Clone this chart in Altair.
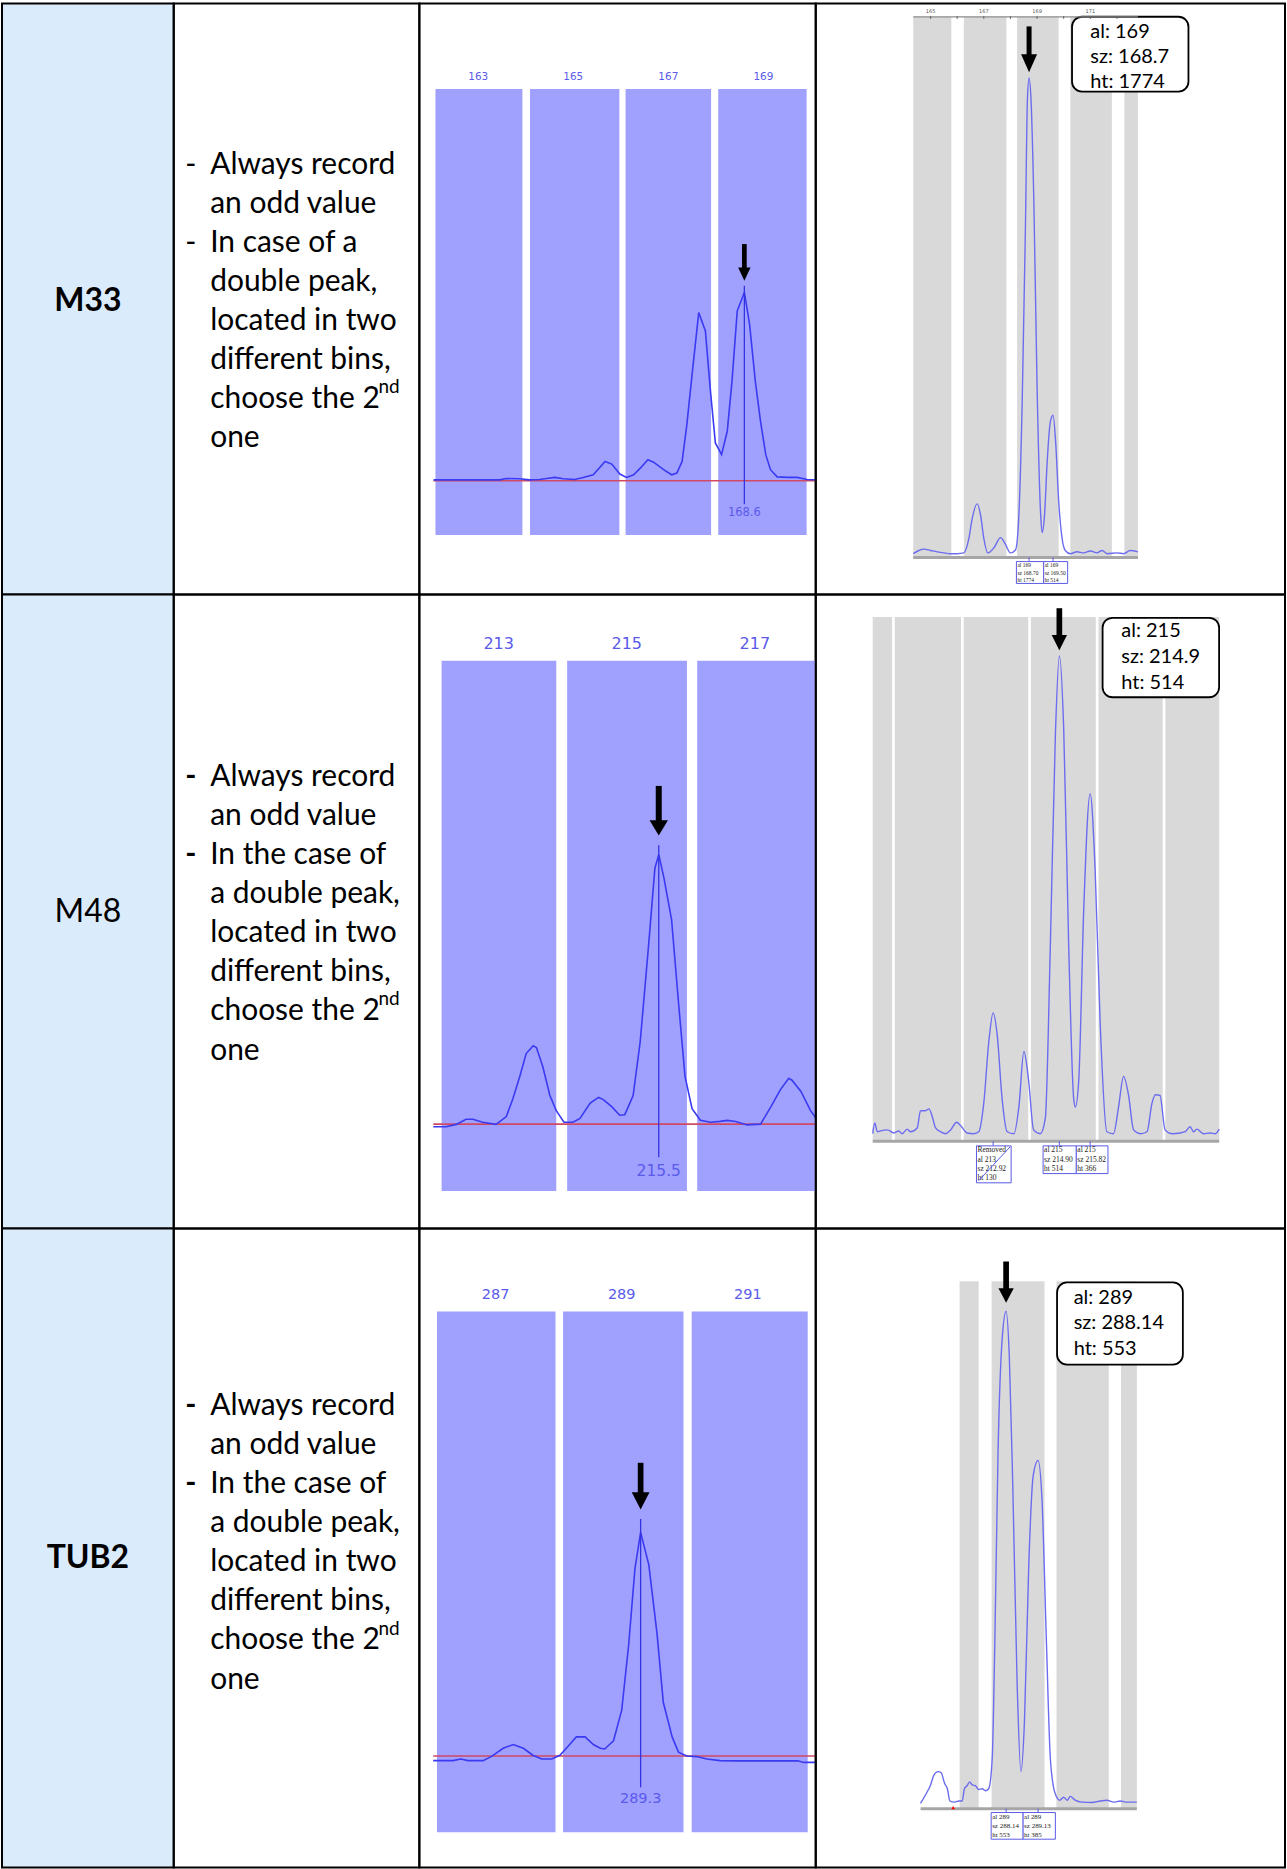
import altair as alt
import pandas as pd

# ============================ DATA ============================
MARKERS = ["M33", "M48", "TUB2"]
MARKER_WEIGHTS = ["bold", "normal", "bold"]

RULES_M33 = ["Always record", "an odd value", "In case of a", "double peak,",
             "located in two", "different bins,", "choose the 2", "one"]
RULES_M48 = ["Always record", "an odd value", "In the case of", "a double peak,",
             "located in two", "different bins,", "choose the 2", "one"]
RULES_TUB2 = ["Always record", "an odd value", "In the case of", "a double peak,",
              "located in two", "different bins,", "choose the 2", "one"]
BULLET_LINE_IDX = [0, 2]
ORDINAL_LINE_IDX = 6
ORDINAL_SUFFIX = "nd"

# ---- bin view (left electropherograms): size in bp, signal relative to called peak (=100)
M33_BINS = [163, 165, 167, 169]
M33_BIN_LO = [162.10, 164.09, 166.10, 168.05]
M33_BIN_HI = [163.93, 165.97, 167.90, 169.91]
M33_BP = [162.06, 162.47, 163.45, 163.59, 163.87, 164.08, 164.29, 164.44, 164.61, 164.79,
          165.03, 165.21, 165.42, 165.67, 165.81, 165.98, 166.12, 166.27, 166.41, 166.57,
          166.69, 166.90, 167.07, 167.18, 167.29, 167.39, 167.50, 167.64, 167.78, 167.88,
          167.99, 168.12, 168.24, 168.34, 168.45, 168.60, 168.71, 168.83, 168.94, 169.05,
          169.15, 169.29, 169.50, 169.71, 169.92, 170.14]
M33_SIG = [0.5, 0.5, 0.5, 1.2, 1.1, 0.5, 0.7, 1.2, 1.8, 1.1,
           0.7, 1.8, 3.2, 10.3, 8.9, 3.6, 1.8, 3.2, 6.7, 11.2,
           9.9, 5.9, 3.2, 4.1, 10.3, 29.8, 56.5, 89.3, 79.6, 49.4,
           20.1, 13.9, 26.3, 52.9, 90.2, 100, 83.1, 52.9, 31.6, 13.9,
           5.9, 2.1, 1.8, 1.8, 0.7, 0.5]
M33_CALL = 168.6

M48_BINS = [213, 215, 217]
M48_BIN_LO = [212.11, 214.07, 216.10]
M48_BIN_HI = [213.90, 215.94, 217.95]
M48_BP = [211.98, 212.18, 212.34, 212.49, 212.60, 212.75, 212.96, 213.12, 213.22, 213.33,
          213.43, 213.54, 213.59, 213.69, 213.80, 213.90, 214.02, 214.16, 214.27, 214.43,
          214.56, 214.63, 214.77, 214.89, 214.97, 215.10, 215.21, 215.34, 215.44, 215.50,
          215.58, 215.70, 215.81, 215.91, 216.02, 216.15, 216.31, 216.46, 216.57, 216.70,
          216.88, 217.09, 217.25, 217.40, 217.53, 217.58, 217.72, 217.87, 217.98]
M48_SIG = [-1.0, -1.0, -0.1, 1.8, 1.8, 0.7, -0.1, 2.8, 9.2, 17.7,
           26.2, 29.1, 28.4, 21.3, 10.6, 5.0, 0.7, 0.7, 2.1, 7.8,
           9.9, 9.2, 6.4, 3.3, 3.5, 10.6, 30.5, 66.0, 95.0, 100,
           91.5, 75.9, 44.7, 17.7, 5.7, 1.4, 0.7, 1.0, 1.4, 1.0,
           -0.3, 0.0, 6.4, 12.8, 17.0, 16.3, 12.1, 5.0, 1.4]
M48_CALL = 215.5

TUB2_BINS = [287, 289, 291]
TUB2_BIN_LO = [286.07, 288.07, 290.11]
TUB2_BIN_HI = [287.95, 289.98, 291.95]
TUB2_BP = [286.01, 286.32, 286.45, 286.56, 286.80, 286.93, 287.12, 287.28, 287.44, 287.59,
           287.73, 287.89, 288.02, 288.15, 288.28, 288.42, 288.55, 288.66, 288.73, 288.87,
           289.00, 289.11, 289.21, 289.30, 289.43, 289.56, 289.66, 289.80, 289.90, 290.03,
           290.19, 290.35, 290.56, 290.83, 291.10, 291.36, 291.63, 291.79, 291.89, 292.10]
TUB2_SIG = [-2.1, -2.1, -1.4, -2.1, -2.1, -0.3, 3.4, 5.1, 3.4, 0.3,
            -1.4, -1.4, 0.3, 4.3, 8.5, 8.5, 5.1, 3.4, 3.1, 6.8,
            20.5, 49.6, 83.8, 100, 85.5, 54.7, 23.9, 8.5, 1.7, 0.0,
            -0.3, -1.4, -2.1, -2.2, -2.2, -2.2, -2.2, -2.2, -2.9, -2.9]
TUB2_CALL = 289.3

# ---- GeneMapper view (right electropherograms): size in bp, height in RFU
M33_GM_BIN_LO = [164.35, 166.25, 168.25, 170.25, 172.28]
M33_GM_BIN_HI = [165.78, 167.85, 169.81, 171.81, 172.79]
M33_GM_BP = [164.35, 164.56, 164.75, 165.00, 165.25, 165.50, 165.75, 166.00, 166.25, 166.44,
             166.56, 166.75, 166.88, 167.00, 167.15, 167.38, 167.63, 167.81, 168.00, 168.19,
             168.31, 168.44, 168.56, 168.64, 168.70, 168.77, 168.88, 169.00, 169.13, 169.19,
             169.28, 169.38, 169.50, 169.60, 169.70, 169.81, 169.94, 170.06, 170.25, 170.50,
             170.75, 171.00, 171.25, 171.44, 171.63, 172.00, 172.25, 172.50, 172.79]
M33_GM_RFU = [-3, 9, 14, 9, 4, 0, -3, -3, 0, 54,
              126, 183, 140, 54, 0, 19, 57, 33, 0, 11,
              126, 554, 1196, 1700, 1774, 1700, 1310, 625, 154, 76,
              140, 340, 490, 514, 411, 197, 54, 9, -3, 4,
              0, 7, 0, 9, -3, 0, -3, 9, 4]
M33_GM_CALLOUT = ["al: 169", "sz: 168.7", "ht: 1774"]
M33_GM_SZ = 168.7
M33_GM_PEAKS = [168.70, 169.60]
M33_GM_PEAK_TEXT = [["al 169", "sz 168.70", "ht 1774"], ["al 169", "sz 169.50", "ht 514"]]
M33_GM_TICKS = [165, 166, 167, 168, 169, 170, 171, 172]
M33_GM_TICK_LABELS = [165, 167, 169, 171]

M48_GM_BIN_LO = [209.32, 209.98, 212.04, 214.05, 216.07, 218.07]
M48_GM_BIN_HI = [209.90, 211.96, 213.97, 215.99, 217.99, 219.68]
M48_GM_BP = [209.32, 209.38, 209.46, 209.58, 209.76, 209.95, 210.10, 210.20, 210.35, 210.45,
             210.65, 210.75, 210.90, 211.00, 211.10, 211.20, 211.35, 211.50, 211.65, 211.83,
             211.94, 212.14, 212.34, 212.49, 212.64, 212.79, 212.92, 213.04, 213.19, 213.34,
             213.54, 213.69, 213.84, 213.98, 214.13, 214.33, 214.48, 214.63, 214.78, 214.90,
             215.03, 215.18, 215.33, 215.38, 215.48, 215.63, 215.82, 215.97, 216.12, 216.32,
             216.52, 216.67, 216.82, 216.97, 217.12, 217.32, 217.52, 217.67, 217.77, 217.91,
             218.06, 218.26, 218.51, 218.66, 218.81, 218.91, 219.01, 219.21, 219.41, 219.56,
             219.68]
M48_GM_RFU = [0, 11.5, 2.1, 3.3, 4.1, 0.8, 2.9, 0, 4.9, 2.1,
              6.2, 24.7, 24.7, 26.7, 18.5, 6.2, 2.1, 0, 4.1, 12.3,
              9.0, 0.8, 0, 2.1, 32.9, 98.7, 130, 106.9, 37.0, 2.1,
              0, 28.8, 88.4, 57.6, 4.1, 0, 16.4, 201.5, 427.6, 514,
              435.9, 201.5, 37.0, 28.8, 57.6, 242.6, 366, 283.7, 119.2, 2.1,
              0, 28.8, 61.7, 41.1, 4.1, 0, 2.1, 32.9, 41.9, 41.1,
              4.1, 0, 0.8, 2.1, 7.4, 2.1, 4.9, 0, 0.8, 0,
              4.9]
M48_GM_CALLOUT = ["al: 215", "sz: 214.9", "ht: 514"]
M48_GM_SZ = 214.9
M48_GM_PEAKS = [212.92, 214.90, 215.82]
M48_GM_PEAK_TEXT = [["Removed", "al 213", "sz 212.92", "ht 130"],
                    ["al 215", "sz 214.90", "ht 514"],
                    ["al 215", "sz 215.82", "ht 366"]]

TUB2_GM_BIN_LO = [286.70, 287.69, 289.70, 291.70]
TUB2_GM_BIN_HI = [287.29, 289.33, 291.32, 292.19]
TUB2_GM_BP = [285.49, 285.65, 285.80, 285.90, 286.03, 286.13, 286.23, 286.32, 286.40, 286.52,
              286.68, 286.78, 286.85, 286.93, 287.01, 287.09, 287.19, 287.29, 287.40, 287.50,
              287.60, 287.71, 287.79, 287.89, 288.02, 288.14, 288.24, 288.35, 288.48, 288.60,
              288.71, 288.84, 288.98, 289.13, 289.25, 289.39, 289.51, 289.65, 289.80, 289.92,
              290.03, 290.13, 290.28, 290.49, 290.80, 291.06, 291.26, 291.47, 291.68, 291.88,
              292.19]
TUB2_GM_RFU = [-1.3, 8.6, 19.4, 30.1, 34.4, 33.1, 21.5, 15.1, 1.3, 0,
               1.3, 1.3, 15.1, 18.5, 22.8, 19.4, 18.5, 14.2, 15.1, 12.9,
               15.1, 49.5, 178.6, 393.8, 522.9, 553, 501.4, 350.8, 135.6, 34.4,
               92.5, 264.7, 368.0, 385, 342.2, 178.6, 49.5, 10.8, 2.2, 5.6,
               2.2, 6.5, 2.2, 0, -0.4, 1.3, 2.2, 0, 1.3, 0,
               0]
TUB2_GM_CALLOUT = ["al: 289", "sz: 288.14", "ht: 553"]
TUB2_GM_SZ = 288.14
TUB2_GM_PEAKS = [288.14, 289.13]
TUB2_GM_PEAK_TEXT = [["al 289", "sz 288.14", "ht 553"], ["al 289", "sz 289.13", "ht 385"]]
TUB2_GM_FLAG = 286.50

# ============================ LAYOUT / STYLE ============================
COL_W = [172, 246, 397, 470]
ROW_H = [592, 635, 640]
FONT = "Lato"
LIGHT_BLUE = "#DAEBFB"
BIN_BLUE = "#A0A0FF"
LABEL_BLUE = "#5A5AEB"
TRACE_BLUE = "#3A3AF2"
CALL_BLUE = "#3333E0"
RED = "#D04A64"
GM_GRAY = "#D9D9D9"
GM_TRACE = "#6C6CF0"
AXIS_GRAY = "#A6A6A6"
MINI_BLUE = "#5A5AE6"

MARKER_Y = [298, 318, 330]
RULE_FIRST_Y = [161.5, 183, 178]
LINE_STEP = 39.1

BIN_GEO = [
    dict(anchor=163, anchor_px=58.96, ppu_x=47.6, base_px=478.1, ppu_y=1.886,
         bin_top=85.8, bin_bot=532.4, lab_y=73.5, lab_fs=10.5, pk_top=282.8, pk_bot=501.5,
         call_y=510.0, call_fs=11.5, shaft_top=241.0, head_base=264.4, shaft_w=4.7,
         head_w=12.4, head_h=13.4),
    dict(anchor=213, anchor_px=79.4, ppu_x=64.15, base_px=530.4, ppu_y=2.698,
         bin_top=66.2, bin_bot=597.4, lab_y=49.3, lab_fs=16, pk_top=251.0, pk_bot=563.5,
         call_y=577.0, call_fs=15.5, shaft_top=191.7, head_base=226.1, shaft_w=6.0,
         head_w=18.4, head_h=15.3),
    dict(anchor=287, anchor_px=76.38, ppu_x=63.15, base_px=528.2, ppu_y=2.239,
         bin_top=83.1, bin_bot=604.7, lab_y=67.0, lab_fs=14.5, pk_top=290.9, pk_bot=559.5,
         call_y=571.5, call_fs=14.5, shaft_top=234.6, head_base=264.1, shaft_w=5.7,
         head_w=17.8, head_h=17.2),
]

GM_GEO = [
    dict(anchor=165, anchor_px=115, ppu_x=26.667, base_px=550.3, ppu_y=0.2682,
         gray_top=13.5, axis_y=554.9, shaft_top=23, head_base=51, shaft_w=5, head_w=16, head_h=18,
         box=(256.7, 373.3, 13.3, 88.3), text_x=275, text_y=[28.3, 53.3, 78.3],
         mini_x=[(201, 228.3), (228.3, 252.3)], mini_top=559, mini_step=7.3, mini_fs=5.5),
    dict(anchor=214.9, anchor_px=244, ppu_x=33.5, base_px=540.0, ppu_y=0.9307,
         gray_top=22.5, axis_y=547.6, shaft_top=13.7, head_base=40.5, shaft_w=5.7, head_w=15.3,
         head_h=15.3, box=(287.3, 404, 23.3, 102.9), text_x=306, text_y=[36.7, 62.3, 88.4],
         mini_x=[(161, 195.7), (227.7, 261), (261, 292.7)], mini_top=552.2, mini_step=9.25,
         mini_fs=7.5),
    dict(anchor=288.14, anchor_px=190.67, ppu_x=32.333, base_px=574.5, ppu_y=0.8892,
         gray_top=52.9, axis_y=581.0, shaft_top=33, head_base=59.8, shaft_w=5.7, head_w=15.3,
         head_h=14.5, box=(241.7, 367.7, 54, 136.3), text_x=258.3, text_y=[69.4, 95, 121],
         mini_x=[(175.7, 207.7), (207.7, 240)], mini_top=584.9, mini_step=8.9, mini_fs=7),
]

ONE = pd.DataFrame({"k": [0]})


def lin_domain(anchor, anchor_px, ppu, size):
    lo = anchor - anchor_px / ppu
    return [lo, lo + size / ppu]


def y_domain(base_px, ppu, size):
    return [-(size - base_px) / ppu, base_px / ppu]


def panel(layers, w, h, fill=None):
    if fill:
        return alt.layer(*layers).properties(
            width=w, height=h, view=alt.ViewBackground(fill=fill, stroke="black", strokeWidth=2))
    return alt.layer(*layers).properties(width=w, height=h)


def arrow(xs, x_val, shaft_top, head_base, shaft_w, head_w, head_h):
    path = "M-1,0L1,0L0,%.4fZ" % (2.0 * head_h / head_w)
    shaft = alt.Chart(ONE).mark_rule(color="black", strokeWidth=shaft_w, strokeCap="butt").encode(
        x=alt.XDatum(x_val, scale=xs, axis=None), y=alt.value(shaft_top), y2=alt.value(head_base + 1))
    head = alt.Chart(ONE).mark_point(shape=path, filled=True, color="black", opacity=1,
                                     strokeWidth=0, size=head_w ** 2).encode(
        x=alt.XDatum(x_val, scale=xs, axis=None), y=alt.value(head_base))
    return [shaft, head]


def marker_cell(r):
    df = pd.DataFrame({"label": [MARKERS[r]]})
    t = alt.Chart(df).mark_text(font=FONT, fontSize=32, fontWeight=MARKER_WEIGHTS[r],
                                color="black", align="center", baseline="middle").encode(
        x=alt.value(COL_W[0] / 2), y=alt.value(MARKER_Y[r]), text="label:N")
    return panel([t], COL_W[0], ROW_H[r], fill=LIGHT_BLUE)


def rules_cell(r, lines, bullet_weight):
    W, H = COL_W[1], ROW_H[r]
    c0 = RULE_FIRST_Y[r]
    ys = alt.Scale(domain=[-c0 / LINE_STEP, (H - c0) / LINE_STEP], reverse=True,
                   nice=False, zero=False)
    Y = alt.Y("line:Q", scale=ys, axis=None)
    df = pd.DataFrame({"line": list(range(len(lines))), "text": lines})
    bul = pd.DataFrame({"line": BULLET_LINE_IDX, "text": ["-"] * len(BULLET_LINE_IDX)})
    sup = pd.DataFrame({"line": [ORDINAL_LINE_IDX], "text": [ORDINAL_SUFFIX]})
    layers = [
        alt.Chart(df).mark_text(align="left", baseline="middle", font=FONT, fontSize=30,
                                color="black").encode(x=alt.value(36.5), y=Y, text="text:N"),
        alt.Chart(bul).mark_text(align="center", baseline="middle", font=FONT, fontSize=30,
                                 fontWeight=bullet_weight, color="black").encode(
            x=alt.value(17), y=Y, text="text:N"),
        alt.Chart(sup).mark_text(align="left", baseline="middle", font=FONT, fontSize=19,
                                 dy=-12, color="black").encode(x=alt.value(205), y=Y, text="text:N"),
    ]
    return panel(layers, W, H)


def bin_view_cell(r, lo, hi, labels, bp, sig, call):
    g = BIN_GEO[r]
    W, H = COL_W[2], ROW_H[r]
    xs = alt.Scale(domain=lin_domain(g["anchor"], g["anchor_px"], g["ppu_x"], W), nice=False, zero=False)
    ys = alt.Scale(domain=y_domain(g["base_px"], g["ppu_y"], H), nice=False, zero=False)
    bins = pd.DataFrame({"lo": lo, "hi": hi, "label": labels})
    trace = pd.DataFrame({"bp": bp, "sig": sig})
    layers = [
        alt.Chart(bins).mark_rect(color=BIN_BLUE).encode(
            x=alt.X("lo:Q", scale=xs, axis=None), x2=alt.X2("hi"),
            y=alt.value(g["bin_top"]), y2=alt.value(g["bin_bot"])),
        alt.Chart(bins).mark_text(color=LABEL_BLUE, font="DejaVu Sans", fontSize=g["lab_fs"],
                                  baseline="middle").encode(
            x=alt.X("label:Q", scale=xs, axis=None), y=alt.value(g["lab_y"]), text="label:N"),
        alt.Chart(ONE).mark_rule(color=RED, strokeWidth=1.6, clip=True).encode(
            x=alt.XDatum(bp[0], scale=xs, axis=None), x2=alt.X2Datum(bp[-1]),
            y=alt.YDatum(0, scale=ys, axis=None)),
        alt.Chart(trace).mark_line(color=TRACE_BLUE, strokeWidth=1.6, clip=True).encode(
            x=alt.X("bp:Q", scale=xs, axis=None), y=alt.Y("sig:Q", scale=ys, axis=None)),
        alt.Chart(ONE).mark_rule(color=CALL_BLUE, strokeWidth=1.3).encode(
            x=alt.XDatum(call, scale=xs, axis=None), y=alt.value(g["pk_top"]), y2=alt.value(g["pk_bot"])),
        alt.Chart(ONE).mark_text(color=LABEL_BLUE, font="DejaVu Sans", fontSize=g["call_fs"],
                                 baseline="middle").encode(
            x=alt.XDatum(call, scale=xs, axis=None), y=alt.value(g["call_y"]), text=alt.value(str(call))),
    ]
    layers += arrow(xs, call, g["shaft_top"], g["head_base"], g["shaft_w"], g["head_w"], g["head_h"])
    return panel(layers, W, H)


def gm_cell(r, glo, ghi, bp, rfu, callout, sz, peaks, peak_text, extra=None):
    g = GM_GEO[r]
    W, H = COL_W[3], ROW_H[r]
    xs = alt.Scale(domain=lin_domain(g["anchor"], g["anchor_px"], g["ppu_x"], W), nice=False, zero=False)
    ys = alt.Scale(domain=y_domain(g["base_px"], g["ppu_y"], H), nice=False, zero=False)
    bins = pd.DataFrame({"lo": glo, "hi": ghi})
    trace = pd.DataFrame({"bp": bp, "rfu": rfu})
    pk = pd.DataFrame({"sz": peaks})
    layers = [
        alt.Chart(bins).mark_rect(color=GM_GRAY).encode(
            x=alt.X("lo:Q", scale=xs, axis=None), x2=alt.X2("hi"),
            y=alt.value(g["gray_top"]), y2=alt.value(g["axis_y"])),
        alt.Chart(ONE).mark_rule(color=AXIS_GRAY, strokeWidth=3).encode(
            x=alt.XDatum(bp[0], scale=xs, axis=None), x2=alt.X2Datum(bp[-1]),
            y=alt.value(g["axis_y"])),
        alt.Chart(trace).mark_line(color=GM_TRACE, strokeWidth=1.4, interpolate="monotone",
                                   clip=True).encode(
            x=alt.X("bp:Q", scale=xs, axis=None), y=alt.Y("rfu:Q", scale=ys, axis=None)),
        alt.Chart(pk).mark_rule(color=MINI_BLUE, strokeWidth=1).encode(
            x=alt.X("sz:Q", scale=xs, axis=None), y=alt.value(g["axis_y"]),
            y2=alt.value(g["mini_top"])),
    ]
    for (x0, x1), lines in zip(g["mini_x"], peak_text):
        bottom = g["mini_top"] + g["mini_step"] * len(lines)
        layers.append(alt.Chart(ONE).mark_rect(fill="white", stroke=MINI_BLUE, strokeWidth=1).encode(
            x=alt.value(x0), x2=alt.value(x1), y=alt.value(g["mini_top"]), y2=alt.value(bottom)))
        for k, line in enumerate(lines):
            layers.append(alt.Chart(ONE).mark_text(
                font="Liberation Serif", fontSize=g["mini_fs"], align="left", baseline="middle",
                color="#222222").encode(
                x=alt.value(x0 + 1), y=alt.value(g["mini_top"] + g["mini_step"] * (k + 0.5)),
                text=alt.value(line)))
    bx0, bx1, by0, by1 = g["box"]
    layers.append(alt.Chart(ONE).mark_rect(fill="white", stroke="black", strokeWidth=1.8,
                                           cornerRadius=10).encode(
        x=alt.value(bx0), x2=alt.value(bx1), y=alt.value(by0), y2=alt.value(by1)))
    for line, ty in zip(callout, g["text_y"]):
        layers.append(alt.Chart(ONE).mark_text(font=FONT, fontSize=20, align="left",
                                               baseline="middle", color="black").encode(
            x=alt.value(g["text_x"]), y=alt.value(ty), text=alt.value(line)))
    layers += arrow(xs, sz, g["shaft_top"], g["head_base"], g["shaft_w"], g["head_w"], g["head_h"])
    if extra:
        layers += extra(xs, g)
    return panel(layers, W, H)


def m33_top_axis(xs, g):
    ticks = pd.DataFrame({"t": M33_GM_TICKS})
    labs = pd.DataFrame({"t": M33_GM_TICK_LABELS})
    return [
        alt.Chart(ONE).mark_rule(color="#8A8A8A", strokeWidth=1.2).encode(
            x=alt.XDatum(M33_GM_BIN_LO[0], scale=xs, axis=None), x2=alt.X2Datum(M33_GM_BIN_HI[-1]),
            y=alt.value(g["gray_top"])),
        alt.Chart(ticks).mark_rule(color="#666666", strokeWidth=1).encode(
            x=alt.X("t:Q", scale=xs, axis=None), y=alt.value(g["gray_top"] - 1),
            y2=alt.value(g["gray_top"] + 2)),
        alt.Chart(labs).mark_text(font="DejaVu Sans", fontSize=5, color="#555555").encode(
            x=alt.X("t:Q", scale=xs, axis=None), y=alt.value(7.3), text="t:N"),
    ]


def m48_strike(xs, g):
    x0, x1 = g["mini_x"][0]
    top = g["mini_top"]
    bottom = top + g["mini_step"] * len(M48_GM_PEAK_TEXT[0])
    return [alt.Chart(ONE).mark_rule(color=MINI_BLUE, strokeWidth=1).encode(
        x=alt.value(x0 + 2), x2=alt.value(x1 - 1), y=alt.value(bottom - 2), y2=alt.value(top + 1))]


def tub2_flag(xs, g):
    return [alt.Chart(ONE).mark_point(shape="triangle-up", filled=True, color="red", opacity=1,
                                      size=14).encode(
        x=alt.XDatum(TUB2_GM_FLAG, scale=xs, axis=None), y=alt.value(g["axis_y"] - 1))]


cells = [
    marker_cell(0), rules_cell(0, RULES_M33, "normal"),
    bin_view_cell(0, M33_BIN_LO, M33_BIN_HI, M33_BINS, M33_BP, M33_SIG, M33_CALL),
    gm_cell(0, M33_GM_BIN_LO, M33_GM_BIN_HI, M33_GM_BP, M33_GM_RFU, M33_GM_CALLOUT, M33_GM_SZ,
            M33_GM_PEAKS, M33_GM_PEAK_TEXT, m33_top_axis),
    marker_cell(1), rules_cell(1, RULES_M48, "bold"),
    bin_view_cell(1, M48_BIN_LO, M48_BIN_HI, M48_BINS, M48_BP, M48_SIG, M48_CALL),
    gm_cell(1, M48_GM_BIN_LO, M48_GM_BIN_HI, M48_GM_BP, M48_GM_RFU, M48_GM_CALLOUT, M48_GM_SZ,
            M48_GM_PEAKS, M48_GM_PEAK_TEXT, m48_strike),
    marker_cell(2), rules_cell(2, RULES_TUB2, "bold"),
    bin_view_cell(2, TUB2_BIN_LO, TUB2_BIN_HI, TUB2_BINS, TUB2_BP, TUB2_SIG, TUB2_CALL),
    gm_cell(2, TUB2_GM_BIN_LO, TUB2_GM_BIN_HI, TUB2_GM_BP, TUB2_GM_RFU, TUB2_GM_CALLOUT, TUB2_GM_SZ,
            TUB2_GM_PEAKS, TUB2_GM_PEAK_TEXT, tub2_flag),
]

chart = alt.concat(*cells, columns=4, spacing=0, bounds="flush", align="each").properties(
    padding={"left": 1, "top": 1, "right": 1, "bottom": 1},
    background="white",
).configure_view(stroke="black", strokeWidth=2)

chart.save("out.html", embed_options={"renderer": "svg", "actions": False})
